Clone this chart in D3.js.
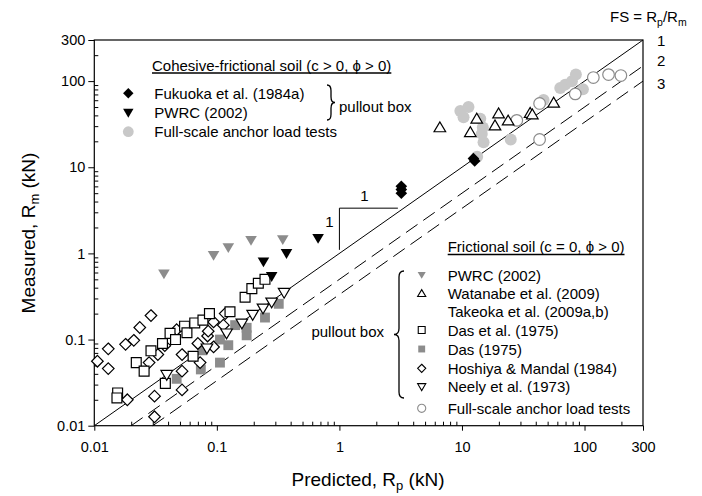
<!DOCTYPE html>
<html>
<head>
<meta charset="utf-8">
<script src="https://cdn.jsdelivr.net/npm/d3@7/dist/d3.min.js"></script>
<style>
  body { margin: 0; background: #fff; }
  text { font-family: "Liberation Sans", Arial, sans-serif; fill: #000; }
</style>
</head>
<body>
<svg id="chart" width="702" height="496"></svg>
<script>
// ---- data: [Rp predicted, Rm measured] in kN ----
const fukuoka = [[3.2, 6.0], [3.2, 5.5], [3.2, 5.0], [12.7, 11.8], [12.4, 12.6]];
const pwrcCohesive = [[0.67, 1.5], [0.37, 1.0], [0.24, 0.8], [0.28, 0.54]];
const fullScaleCohesive = [[9.7, 45], [11.3, 50], [10.3, 38], [14.1, 36.5], [14.8, 29], [14.5, 24.4],
  [15, 19.5], [25, 21], [13.3, 13.2], [46.3, 60.5], [63.4, 83.4], [69.6, 91], [78.9, 99.5],
  [85, 119], [97, 80.6]];

const pwrcFrictional = [[0.037, 0.58], [0.094, 0.95], [0.124, 1.17], [0.19, 1.42], [0.345, 1.45]];
const watanabe = [[6.6, 29], [11.7, 25.5], [13.2, 36.5], [18.6, 30.5], [19.9, 42], [23.8, 34.8],
  [36, 42.6], [37.5, 41], [56, 56]];
const dasEtAl = [[0.0155, 0.024], [0.0153, 0.021], [0.022, 0.054], [0.0255, 0.043], [0.029, 0.074],
  [0.036, 0.09], [0.038, 0.031], [0.0415, 0.118], [0.046, 0.10], [0.0545, 0.143], [0.057, 0.12],
  [0.066, 0.156], [0.077, 0.168], [0.087, 0.20], [0.064, 0.064], [0.128, 0.21], [0.17, 0.31],
  [0.193, 0.39], [0.218, 0.45], [0.247, 0.50]];
const das = [[0.047, 0.035], [0.074, 0.045], [0.106, 0.054], [0.076, 0.075], [0.106, 0.10],
  [0.124, 0.086], [0.141, 0.147], [0.175, 0.137], [0.175, 0.112], [0.247, 0.18], [0.32, 0.26]];
const hoshiya = [[0.0106, 0.056], [0.013, 0.078], [0.013, 0.046], [0.018, 0.088], [0.021, 0.098],
  [0.0235, 0.138], [0.029, 0.19], [0.0186, 0.020], [0.031, 0.022], [0.031, 0.0127], [0.028, 0.054],
  [0.033, 0.067], [0.0376, 0.085], [0.047, 0.13], [0.052, 0.067], [0.052, 0.026], [0.052, 0.043],
  [0.070, 0.090], [0.073, 0.054], [0.084, 0.11], [0.094, 0.16], [0.094, 0.082], [0.113, 0.147],
  [0.117, 0.20], [0.085, 0.125]];
const neely = [[0.039, 0.039], [0.083, 0.079], [0.12, 0.118], [0.16, 0.154], [0.196, 0.194],
  [0.238, 0.23], [0.28, 0.27], [0.354, 0.35]];
const fullScaleFrictional = [[28, 35], [43, 55], [84, 71], [118, 110], [157, 119], [198, 116], [43, 21]];

const tickValues = [0.01, 0.1, 1, 10, 100, 300];
const fsLines = [1, 2, 3];

// ---- layout ----
const svg = d3.select("#chart");
const x = d3.scaleLog().domain([0.01, 300]).range([94.3, 643]);
const y = d3.scaleLog().domain([0.01, 300]).range([425.7, 40]);
const minor = [];
[0.01, 0.1, 1, 10, 100].forEach(d => { for (let k = 2; k <= 9; k++) { if (d * k < 300) minor.push(d * k); } });

// axes
svg.append("g").attr("transform", "translate(0,425.7)")
  .call(d3.axisBottom(x).tickValues(tickValues).tickFormat(d => d).tickSize(5).tickPadding(11))
  .call(g => g.select(".domain").remove())
  .call(g => g.selectAll("text").attr("font-size", 14.5).attr("font-family", null));
svg.append("g").attr("transform", "translate(0,425.7)")
  .call(d3.axisBottom(x).tickValues(minor).tickFormat("").tickSize(-4))
  .call(g => g.select(".domain").remove());
svg.append("g").attr("transform", "translate(94.3,0)")
  .call(d3.axisLeft(y).tickValues(tickValues).tickFormat(d => d).tickSize(6).tickPadding(3))
  .call(g => g.select(".domain").remove())
  .call(g => g.selectAll("text").attr("font-size", 14.5).attr("font-family", null));
svg.append("g").attr("transform", "translate(94.3,0)")
  .call(d3.axisLeft(y).tickValues(minor).tickFormat("").tickSize(-4))
  .call(g => g.select(".domain").remove());

svg.append("rect").attr("x", x(0.01)).attr("y", y(300))
  .attr("width", x(300) - x(0.01)).attr("height", y(0.01) - y(300))
  .attr("fill", "none").attr("stroke", "#000").attr("stroke-width", 1.2);

// FS lines
const fsLabelY = [45.5, 66, 89];
fsLines.forEach((fs, i) => {
  svg.append("line")
    .attr("x1", x(0.01 * fs)).attr("y1", y(0.01))
    .attr("x2", x(300)).attr("y2", y(300 / fs))
    .attr("stroke", "#000").attr("stroke-width", 1)
    .attr("stroke-dasharray", fs === 1 ? null : "14,7");
  svg.append("text").attr("x", 657).attr("y", fsLabelY[i]).attr("font-size", 15).text(fs);
});
const fsLbl = svg.append("text").attr("x", 610).attr("y", 22).attr("font-size", 15);
fsLbl.append("tspan").text("FS = R");
fsLbl.append("tspan").attr("font-size", 10.5).attr("dy", 4).text("p");
fsLbl.append("tspan").attr("dy", -4).text("/R");
fsLbl.append("tspan").attr("font-size", 10.5).attr("dy", 4).text("m");

// slope triangle 1:1
svg.append("path")
  .attr("d", `M${x(1)},${y(1.1)}V${y(3.35)}H${x(3.0)}`)
  .attr("fill", "none").attr("stroke", "#000").attr("stroke-width", 1);
svg.append("text").attr("x", x(1.6)).attr("y", y(3.35) - 7).attr("font-size", 15).attr("text-anchor", "middle").text("1");
svg.append("text").attr("x", x(1) - 10).attr("y", y(2.3) + 5).attr("font-size", 15).attr("text-anchor", "middle").text("1");

// markers
function shape(type, s) {
  if (type === "diamond") return `M0,${-s}L${s},0L0,${s}L${-s},0Z`;
  if (type === "square") { const h = s * 0.85; return `M${-h},${-h}H${h}V${h}H${-h}Z`; }
  if (type === "down") return `M${-s},${-s * 0.75}H${s}L0,${s * 0.95}Z`;
  if (type === "up") return `M${-s},${s * 0.75}H${s}L0,${-s * 0.95}Z`;
  return d3.arc()({innerRadius: 0, outerRadius: s, startAngle: 0, endAngle: 2 * Math.PI});
}
const styles = {
  fukuoka: {type: "diamond", size: 5.8, fill: "#000", stroke: "none"},
  pwrcCohesive: {type: "down", size: 5.8, fill: "#000", stroke: "none"},
  fullScaleCohesive: {type: "circle", size: 6, fill: "#c8c8c8", stroke: "none"},
  pwrcFrictional: {type: "down", size: 5.8, fill: "#8c8c8c", stroke: "none"},
  watanabe: {type: "up", size: 5.8, fill: "#fff", stroke: "#000"},
  dasEtAl: {type: "square", size: 5.8, fill: "#fff", stroke: "#000"},
  das: {type: "square", size: 5.8, fill: "#8c8c8c", stroke: "none"},
  hoshiya: {type: "diamond", size: 5.8, fill: "#fff", stroke: "#000"},
  neely: {type: "down", size: 5.8, fill: "#fff", stroke: "#000"},
  fullScaleFrictional: {type: "circle", size: 5.8, fill: "#fff", stroke: "#8c8c8c"}
};
function plot(data, st) {
  svg.append("g").selectAll("path").data(data).join("path")
    .attr("transform", d => `translate(${x(d[0])},${y(d[1])})`)
    .attr("d", shape(st.type, st.size))
    .attr("fill", st.fill).attr("stroke", st.stroke).attr("stroke-width", 1.2);
}
plot(fullScaleCohesive, styles.fullScaleCohesive);
plot(fullScaleFrictional, styles.fullScaleFrictional);
plot(pwrcFrictional, styles.pwrcFrictional);
plot(das, styles.das);
plot(hoshiya, styles.hoshiya);
plot(dasEtAl, styles.dasEtAl);
plot(neely, styles.neely);
plot(watanabe, styles.watanabe);
plot(pwrcCohesive, styles.pwrcCohesive);
plot(fukuoka, styles.fukuoka);

// legends
function marker(px, py, st, k) {
  svg.append("path").attr("transform", `translate(${px},${py})`)
    .attr("d", shape(st.type, st.size * k))
    .attr("fill", st.fill).attr("stroke", st.stroke).attr("stroke-width", 1.1);
}
function title(px, py, str) {
  const t = svg.append("text").attr("x", px).attr("y", py).attr("font-size", 15).text(str);
  const w = t.node().getComputedTextLength();
  svg.append("line").attr("x1", px).attr("x2", px + w).attr("y1", py + 2.5).attr("y2", py + 2.5)
    .attr("stroke", "#000").attr("stroke-width", 1.3);
}
function brace(bx, y1, y2, w, dir) {
  const m = (y1 + y2) / 2, r = Math.min(6, (y2 - y1) / 6), h = bx + dir * w / 2;
  svg.append("path")
    .attr("d", `M${bx},${y1}Q${h},${y1} ${h},${y1 + r}L${h},${m - r}Q${h},${m} ${bx + dir * w},${m}` +
      `Q${h},${m} ${h},${m + r}L${h},${y2 - r}Q${h},${y2} ${bx},${y2}`)
    .attr("fill", "none").attr("stroke", "#000").attr("stroke-width", 1.3);
}

title(152, 70.5, "Cohesive-frictional soil (c > 0, \u03d5 > 0)");
const cohLegend = [
  ["Fukuoka et al. (1984a)", "fukuoka", 93.3],
  ["PWRC (2002)", "pwrcCohesive", 112.7],
  ["Full-scale anchor load tests", "fullScaleCohesive", 131.7]
];
cohLegend.forEach(([lbl, key, py]) => {
  marker(128.3, py, styles[key], 0.9);
  svg.append("text").attr("x", 154.3).attr("y", py + 5.5).attr("font-size", 15).text(lbl);
});
brace(327, 85, 120, 8, 1);
svg.append("text").attr("x", 339).attr("y", 112).attr("font-size", 15).text("pullout box");

title(447.7, 252, "Frictional soil (c = 0, \u03d5 > 0)");
const friLegend = [
  ["PWRC (2002)", "pwrcFrictional", 275],
  ["Watanabe et al. (2009)", "watanabe", 293.5],
  ["Takeoka et al. (2009a,b)", null, 311],
  ["Das et al. (1975)", "dasEtAl", 330],
  ["Das (1975)", "das", 349],
  ["Hoshiya & Mandal (1984)", "hoshiya", 368.3],
  ["Neely et al. (1973)", "neely", 386.7],
  ["Full-scale anchor load tests", "fullScaleFrictional", 408.3]
];
friLegend.forEach(([lbl, key, py]) => {
  if (key) marker(421.7, py, styles[key], 0.7);
  svg.append("text").attr("x", 447.7).attr("y", py + 5.5).attr("font-size", 15).text(lbl);
});
brace(404, 271, 398, 10, -1);
svg.append("text").attr("x", 384).attr("y", 337).attr("font-size", 15).attr("text-anchor", "end").text("pullout box");

// axis titles
const xt = svg.append("text").attr("x", 368).attr("y", 486).attr("font-size", 19).attr("text-anchor", "middle");
xt.append("tspan").text("Predicted, R");
xt.append("tspan").attr("font-size", 13).attr("dy", 4).text("p");
xt.append("tspan").attr("dy", -4).text(" (kN)");
const yt = svg.append("text").attr("transform", "translate(35,233) rotate(-90)")
  .attr("font-size", 19).attr("text-anchor", "middle");
yt.append("tspan").text("Measured, R");
yt.append("tspan").attr("font-size", 13).attr("dy", 4).text("m");
yt.append("tspan").attr("dy", -4).text(" (kN)");
</script>
</body>
</html>
